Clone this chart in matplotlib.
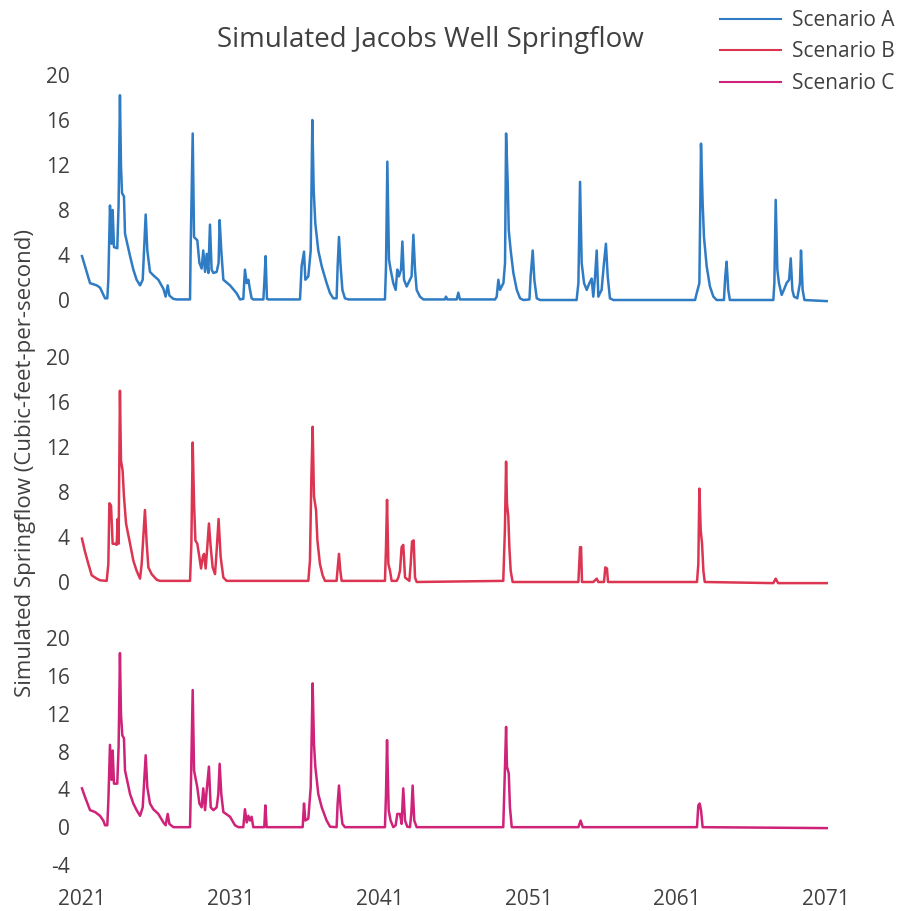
import matplotlib.pyplot as plt

plt.rcParams['font.family'] = ['Open Sans', 'DejaVu Sans']
plt.rcParams['axes.unicode_minus'] = False

# Scenario A (years, cfs)
a_years = [2021.00, 2021.54, 2021.99, 2022.21, 2022.55, 2022.70, 2022.77, 2022.88, 2022.99, 2023.06,
           2023.15, 2023.37, 2023.46, 2023.55, 2023.62, 2023.69, 2023.82, 2023.89, 2024.23, 2024.45,
           2024.67, 2024.90, 2025.08, 2025.17, 2025.28, 2025.39, 2025.57, 2025.79, 2026.13, 2026.47,
           2026.62, 2026.76, 2026.87, 2027.14, 2027.36, 2028.26, 2028.30, 2028.44, 2028.53, 2028.75,
           2028.89, 2029.04, 2029.15, 2029.27, 2029.38, 2029.49, 2029.60, 2029.71, 2029.83, 2030.05,
           2030.18, 2030.25, 2030.36, 2030.50, 2030.95, 2031.39, 2031.62, 2031.84, 2031.95, 2032.07,
           2032.18, 2032.29, 2032.40, 2032.51, 2033.19, 2033.25, 2033.34, 2033.43, 2033.52, 2035.65,
           2035.76, 2035.92, 2036.01, 2036.21, 2036.37, 2036.48, 2036.57, 2036.68, 2036.88, 2037.11,
           2037.44, 2037.67, 2037.89, 2038.11, 2038.18, 2038.27, 2038.38, 2038.50, 2038.67, 2038.90,
           2041.36, 2041.43, 2041.52, 2041.63, 2041.74, 2041.92, 2042.08, 2042.19, 2042.30, 2042.44,
           2042.53, 2042.64, 2042.82, 2043.15, 2043.27, 2043.38, 2043.49, 2043.71, 2043.94, 2045.39,
           2045.46, 2045.55, 2046.18, 2046.29, 2046.40, 2048.76, 2048.87, 2048.98, 2049.09, 2049.32,
           2049.43, 2049.50, 2049.61, 2049.68, 2049.81, 2049.99, 2050.22, 2050.44, 2050.66, 2051.07,
           2051.15, 2051.29, 2051.40, 2051.56, 2051.78, 2054.24, 2054.36, 2054.47, 2054.58, 2054.74,
           2054.92, 2055.10, 2055.25, 2055.36, 2055.48, 2055.59, 2055.70, 2055.92, 2056.08, 2056.21,
           2056.33, 2056.48, 2056.71, 2062.20, 2062.31, 2062.49, 2062.60, 2062.71, 2062.80, 2062.98,
           2063.20, 2063.43, 2063.65, 2064.14, 2064.23, 2064.32, 2064.43, 2064.54, 2067.46, 2067.53,
           2067.62, 2067.73, 2067.84, 2068.02, 2068.20, 2068.35, 2068.52, 2068.63, 2068.74, 2068.85,
           2069.07, 2069.25, 2069.32, 2069.43, 2069.55, 2071.05]
a_flow = [3.9, 1.5, 1.3, 1.1, 0.15, 0.15, 1.8, 8.4, 5.0, 8.0,
          4.7, 4.6, 8.5, 18.2, 11.9, 9.5, 9.2, 5.9, 3.9, 2.7,
          1.8, 1.3, 1.8, 4.4, 7.6, 4.4, 2.5, 2.2, 1.8, 1.0,
          0.3, 1.3, 0.4, 0.1, 0.05, 0.05, 4.4, 14.8, 5.6, 5.3,
          3.3, 2.8, 4.4, 2.5, 4.1, 2.4, 6.7, 2.7, 2.4, 2.5,
          3.3, 7.1, 4.4, 1.8, 1.3, 0.6, 0.05, 0.1, 2.7, 1.5,
          1.8, 0.9, 0.15, 0.05, 0.05, 1.5, 3.9, 0.1, 0.05, 0.05,
          3.0, 4.3, 1.8, 2.1, 4.4, 16.0, 9.8, 6.8, 4.4, 3.0,
          1.5, 0.6, 0.15, 0.15, 3.0, 5.6, 3.0, 0.9, 0.15, 0.05,
          0.05, 3.0, 12.3, 3.6, 2.7, 1.5, 0.9, 2.7, 2.1, 2.7,
          5.2, 1.8, 1.2, 2.1, 5.8, 2.7, 0.9, 0.3, 0.05, 0.05,
          0.3, 0.05, 0.05, 0.65, 0.05, 0.05, 0.3, 1.8, 0.9, 1.5,
          3.3, 14.8, 10.4, 6.2, 4.4, 2.4, 0.9, 0.15, 0.0, 0.05,
          2.1, 4.4, 1.8, 0.15, 0.0, 0.0, 1.5, 10.5, 3.3, 1.5,
          0.9, 1.5, 1.9, 0.3, 2.1, 4.4, 0.3, 0.9, 3.3, 5.0,
          2.1, 0.15, 0.0, 0.0, 0.6, 1.5, 13.9, 8.6, 5.6, 3.0,
          1.2, 0.3, 0.0, 0.0, 2.1, 3.4, 0.9, 0.0, 0.0, 1.5,
          8.9, 2.7, 1.5, 0.45, 1.0, 1.5, 1.8, 3.7, 0.9, 0.3,
          0.15, 1.5, 4.4, 0.9, 0.0, -0.1]

# Scenario B
b_years = [2021.00, 2021.20, 2021.43, 2021.65, 2021.99, 2022.21, 2022.66, 2022.77, 2022.84, 2022.95,
           2023.06, 2023.22, 2023.33, 2023.40, 2023.46, 2023.55, 2023.62, 2023.73, 2023.82, 2023.96,
           2024.23, 2024.45, 2024.67, 2024.90, 2025.01, 2025.08, 2025.23, 2025.35, 2025.46, 2025.68,
           2026.02, 2026.24, 2028.26, 2028.35, 2028.44, 2028.53, 2028.62, 2028.75, 2028.89, 2029.00,
           2029.11, 2029.20, 2029.31, 2029.42, 2029.53, 2029.65, 2029.78, 2029.94, 2030.05, 2030.18,
           2030.32, 2030.50, 2030.72, 2036.21, 2036.32, 2036.41, 2036.50, 2036.59, 2036.73, 2036.82,
           2036.99, 2037.17, 2037.33, 2038.11, 2038.18, 2038.27, 2038.36, 2038.45, 2041.36, 2041.43,
           2041.50, 2041.59, 2041.70, 2041.81, 2042.15, 2042.26, 2042.37, 2042.48, 2042.59, 2042.71,
           2043.00, 2043.09, 2043.18, 2043.29, 2043.38, 2043.49, 2049.31, 2049.42, 2049.50, 2049.56,
           2049.65, 2049.72, 2049.81, 2049.94, 2054.36, 2054.47, 2054.54, 2054.60, 2055.36, 2055.59,
           2055.70, 2056.08, 2056.17, 2056.28, 2056.35, 2062.33, 2062.42, 2062.49, 2062.58, 2062.67,
           2062.76, 2062.85, 2067.46, 2067.62, 2067.78, 2071.05]
b_flow = [3.85, 2.7, 1.6, 0.6, 0.3, 0.15, 0.1, 1.6, 7.0, 6.8,
          3.4, 3.4, 3.3, 5.6, 3.4, 17.0, 10.8, 9.9, 7.6, 5.2,
          3.4, 1.9, 1.0, 0.3, 1.6, 3.1, 6.4, 3.4, 1.3, 0.7,
          0.2, 0.1, 0.1, 3.4, 12.4, 7.0, 3.7, 3.4, 2.2, 1.2,
          2.2, 2.5, 1.2, 3.1, 5.2, 3.1, 1.3, 0.7, 2.8, 5.6,
          2.2, 0.4, 0.1, 0.1, 1.9, 9.0, 13.8, 7.6, 6.4, 3.7,
          1.6, 0.6, 0.1, 0.1, 1.2, 2.5, 1.0, 0.1, 0.1, 3.1,
          7.3, 1.6, 1.0, 0.1, 0.1, 0.4, 1.0, 3.1, 3.3, 0.4,
          0.1, 1.6, 3.6, 3.7, 0.4, 0.0, 0.1, 4.6, 10.7, 7.0,
          5.8, 3.1, 1.0, 0.0, 0.0, 3.1, 3.1, 0.0, 0.0, 0.3,
          0.0, 0.0, 1.3, 1.2, 0.0, 0.0, 1.6, 8.3, 4.6, 3.4,
          1.0, 0.0, -0.1, 0.3, -0.1, -0.1]

# Scenario C
c_years = [2021.00, 2021.20, 2021.54, 2021.88, 2022.21, 2022.43, 2022.55, 2022.70, 2022.77, 2022.88,
           2022.99, 2023.06, 2023.15, 2023.37, 2023.46, 2023.55, 2023.62, 2023.71, 2023.82, 2023.89,
           2024.23, 2024.45, 2024.67, 2024.90, 2025.08, 2025.17, 2025.28, 2025.39, 2025.57, 2025.79,
           2026.13, 2026.47, 2026.62, 2026.76, 2026.87, 2027.14, 2028.26, 2028.33, 2028.44, 2028.53,
           2028.75, 2028.89, 2029.04, 2029.15, 2029.27, 2029.38, 2029.53, 2029.65, 2029.83, 2030.05,
           2030.16, 2030.25, 2030.36, 2030.50, 2030.95, 2031.28, 2031.51, 2031.84, 2031.95, 2032.07,
           2032.18, 2032.29, 2032.40, 2032.51, 2033.25, 2033.32, 2033.41, 2035.83, 2035.92, 2036.01,
           2036.21, 2036.37, 2036.50, 2036.59, 2036.68, 2036.88, 2037.11, 2037.44, 2037.67, 2038.11,
           2038.18, 2038.27, 2038.38, 2038.50, 2038.67, 2041.36, 2041.43, 2041.50, 2041.61, 2041.74,
           2041.92, 2042.08, 2042.19, 2042.37, 2042.48, 2042.59, 2042.71, 2042.86, 2043.04, 2043.13,
           2043.22, 2043.33, 2043.49, 2049.31, 2049.42, 2049.50, 2049.56, 2049.68, 2049.76, 2049.88,
           2054.36, 2054.51, 2054.65, 2062.33, 2062.42, 2062.51, 2062.60, 2062.71, 2071.05]
c_flow = [4.1, 3.2, 1.8, 1.6, 1.2, 0.7, 0.2, 0.2, 2.7, 8.7,
          5.0, 8.1, 4.6, 4.6, 8.5, 18.4, 11.9, 9.7, 9.4, 6.0,
          3.5, 2.5, 1.8, 1.2, 2.1, 4.6, 7.6, 4.2, 2.5, 1.9,
          1.4, 0.5, 0.2, 1.4, 0.35, 0.0, 0.0, 5.3, 14.5, 6.0,
          4.2, 2.5, 2.1, 4.1, 1.8, 3.9, 6.4, 2.1, 1.8, 2.1,
          3.5, 6.7, 3.5, 1.6, 1.1, 0.2, 0.0, 0.0, 1.9, 0.5,
          1.2, 0.7, 1.1, 0.0, 0.0, 2.3, 0.0, 0.0, 2.5, 0.7,
          0.9, 4.2, 15.2, 8.8, 6.4, 3.5, 2.1, 0.7, 0.05, 0.0,
          2.5, 4.4, 2.1, 0.35, 0.0, 0.0, 3.5, 9.2, 1.8, 0.7,
          0.0, 0.2, 1.4, 1.4, 0.35, 4.1, 0.7, 0.05, 0.0, 1.4,
          4.4, 0.7, 0.0, 0.0, 6.0, 10.6, 6.4, 5.7, 2.1, 0.0,
          0.0, 0.7, 0.0, 0.0, 2.3, 2.5, 1.8, 0.0, -0.1]

scenarios = ['Scenario A', 'Scenario B', 'Scenario C']
colors = ['#2F7CC4', '#DC3552', '#CF2279']
year_ticks = [2021, 2031, 2041, 2051, 2061, 2071]
flow_ticks = [0, 4, 8, 12, 16, 20]

W, H = 898, 911
fig = plt.figure(figsize=(W / 100, H / 100), dpi=100)
text_color = '#404040'


def panel(top_px, bottom_px, ymin):
    # axes placed by the pixel rows of its y-limits
    ax = fig.add_axes([82 / W, 1 - bottom_px / H, 744 / W, (bottom_px - top_px) / H])
    ax.set_xlim(2021, 2071)
    ax.set_ylim(ymin, 20)
    for s in ax.spines.values():
        s.set_visible(False)
    ax.tick_params(length=0, labelsize=15, labelcolor=text_color, pad=9)
    return ax


ax1 = panel(75, 300, 0)
ax2 = panel(357, 582, 0)
ax3 = panel(638, 865, -4)

series = [(a_years, a_flow), (b_years, b_flow), (c_years, c_flow)]
handles = []
for ax, (yrs, flow), name, col in zip([ax1, ax2, ax3], series, scenarios, colors):
    line, = ax.plot(yrs, flow, color=col, lw=1.8, label=name, clip_on=False)
    handles.append(line)
    ax.set_yticks(flow_ticks if ax is not ax3 else [-4] + flow_ticks)
    ax.set_xticks(year_ticks)
    if ax is not ax3:
        ax.tick_params(labelbottom=False)

ax3.tick_params(axis='x', pad=17)

fig.text(430 / W, 1 - 40 / H, 'Simulated Jacobs Well Springflow', ha='center', va='center',
         fontsize=20, color=text_color)
fig.text(26 / W, 1 - 463 / H, 'Simulated Springflow (Cubic-feet-per-second)', rotation=90,
         ha='center', va='center', fontsize=16, color=text_color)

leg = fig.legend(handles=handles, loc='upper right', bbox_to_anchor=(895 / W, 1 - 10 / H),
                 frameon=False, fontsize=15, labelcolor=text_color, handlelength=2.9,
                 handletextpad=0.55, labelspacing=0.5, borderpad=0, borderaxespad=0)
for h in leg.legend_handles:
    h.set_linewidth(1.5)

fig.savefig('out.png', dpi=100)
